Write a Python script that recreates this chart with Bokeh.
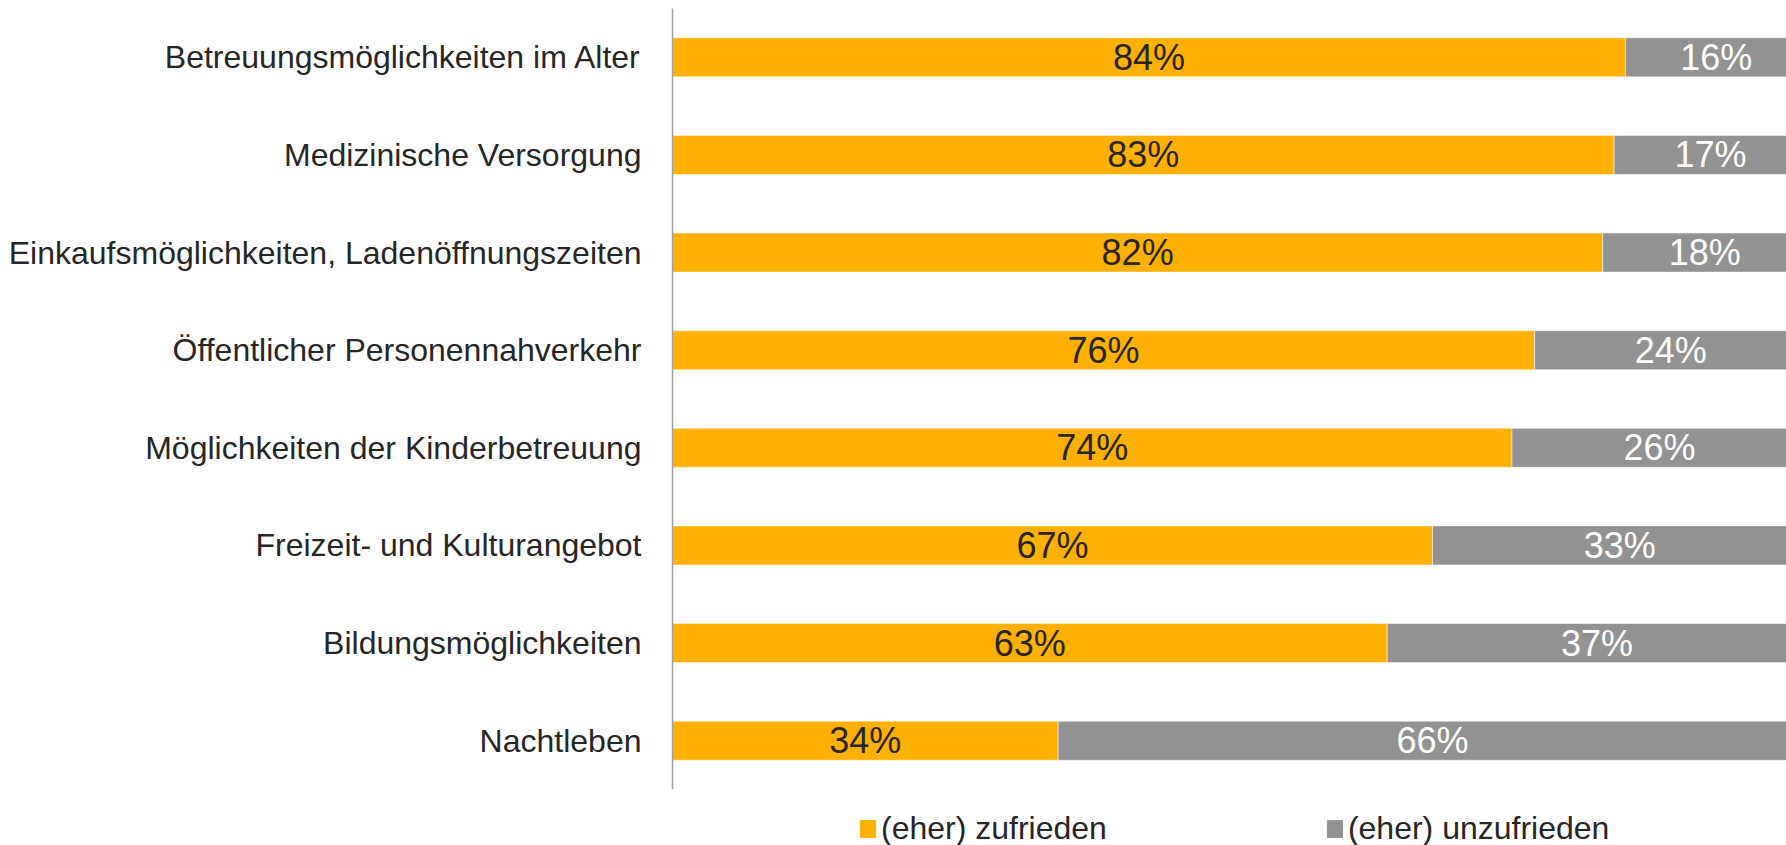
from bokeh.plotting import figure
from bokeh.models import ColumnDataSource, Legend, LegendItem, FactorRange, Range1d
from bokeh.layouts import column
from bokeh.core.properties import value
from bokeh.embed import file_html
from bokeh.resources import INLINE

categories = [
    "Betreuungsmöglichkeiten im Alter",
    "Medizinische Versorgung",
    "Einkaufsmöglichkeiten, Ladenöffnungszeiten",
    "Öffentlicher Personennahverkehr",
    "Möglichkeiten der Kinderbetreuung",
    "Freizeit- und Kulturangebot",
    "Bildungsmöglichkeiten",
    "Nachtleben",
]
zufrieden = [84, 83, 82, 76, 74, 67, 63, 34]
unzufrieden = [16, 17, 18, 24, 26, 33, 37, 66]
series_names = ["(eher) zufrieden", "(eher) unzufrieden"]

ORANGE = "#FFB000"
GRAY = "#929292"
FONT = "Liberation Sans"
TEXT = "#262626"

src = ColumnDataSource(dict(
    cat=categories,
    z=zufrieden,
    u=unzufrieden,
    zmid=[v / 2 for v in zufrieden],
    umid=[a + b / 2 for a, b in zip(zufrieden, unzufrieden)],
    zlab=[f"{v}%" for v in zufrieden],
    ulab=[f"{v}%" for v in unzufrieden],
))

# main chart
p = figure(width=1786, height=789, output_backend="svg", toolbar_location=None,
           y_range=FactorRange(factors=list(reversed(categories))),
           x_range=Range1d(0, 98.2), x_axis_location=None)
p.min_border_left = 672
p.min_border_right = 0
p.min_border_top = 8
p.min_border_bottom = 0

p.hbar_stack(["z", "u"], y="cat", height=0.4, source=src,
             color=[ORANGE, GRAY], line_color="white", line_width=0.5)

p.text(x="zmid", y="cat", text="zlab", source=src, text_align="center",
       text_baseline="middle", text_font=value(FONT), text_font_size="36px",
       text_color=TEXT)
p.text(x="umid", y="cat", text="ulab", source=src, text_align="center",
       text_baseline="middle", text_font=value(FONT), text_font_size="36px",
       text_color="white")

p.xgrid.visible = False
p.ygrid.visible = False
p.outline_line_color = None
yax = p.yaxis[0]
yax.axis_line_color = "#A0A0A0"
yax.axis_line_width = 1.5
yax.major_tick_line_color = None
yax.minor_tick_line_color = None
yax.major_label_text_font = FONT
yax.major_label_text_font_size = "32px"
yax.major_label_text_color = TEXT
yax.major_label_standoff = 25

# legend strip below the chart (its frame is aligned with the chart's frame)
lg = figure(width=1786, height=56, output_backend="svg", toolbar_location=None,
            x_range=Range1d(0, 1), y_range=Range1d(0, 1),
            x_axis_location=None, y_axis_location=None)
lg.min_border_left = 672
lg.min_border_right = 0
lg.min_border_top = 0
lg.min_border_bottom = 0
lg.xgrid.visible = False
lg.ygrid.visible = False
lg.outline_line_color = None
proxy_src = ColumnDataSource(dict(y=[-5], left=[0], right=[0]))
proxies = [lg.hbar(y="y", left="left", right="right", height=0.4, source=proxy_src, color=c)
           for c in (ORANGE, GRAY)]

legend = Legend(items=[LegendItem(label=series_names[i], renderers=[proxies[i]]) for i in range(2)],
                orientation="horizontal", location=(186, -2),
                spacing=218, padding=0, margin=0,
                glyph_width=19, glyph_height=21, label_standoff=4,
                label_text_font=FONT, label_text_font_size="32px",
                label_text_color=TEXT, border_line_alpha=0,
                background_fill_alpha=0)
lg.add_layout(legend, "center")

layout = column(p, lg, spacing=0)
open("out.html", "w").write(file_html(layout, INLINE))
